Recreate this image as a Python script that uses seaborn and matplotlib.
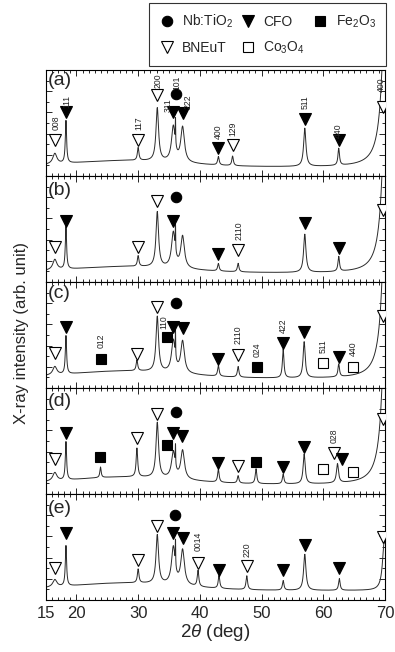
import numpy as np
import pandas as pd
import matplotlib
matplotlib.use("Agg")
import matplotlib.pyplot as plt
import seaborn as sns
from matplotlib.lines import Line2D
from matplotlib.ticker import MultipleLocator, FixedLocator

sns.set_style("ticks")
plt.rcParams["font.family"] = ["Liberation Sans", "DejaVu Sans"]
plt.rcParams["mathtext.fontset"] = "custom"
plt.rcParams["mathtext.rm"] = "Liberation Sans"
plt.rcParams["mathtext.it"] = "Liberation Sans:italic"

# ---------------- data ----------------
panel_names = ["(a)", "(b)", "(c)", "(d)", "(e)"]
panel_label_y = [0.905, 0.86, 0.89, 0.87, 0.86]
x_ticks = [15, 20, 30, 40, 50, 60, 70]

# background: flat level and amorphous hump amplitude (panel fraction)
bg_flat = [0.085, 0.085, 0.09, 0.09, 0.09]
bg_hump = [0.06, 0.06, 0.07, 0.07, 0.07]

# peaks: position (deg), amplitude (panel fraction), FWHM (deg)
a_pos = [16.5, 18.3, 30.0, 33.1, 35.7, 36.05, 37.2, 43.0, 45.3, 57.0, 62.5, 70.4]
a_amp = [0.10, 0.40, 0.12, 0.50, 0.33, 0.25, 0.33, 0.08, 0.09, 0.36, 0.16, 3.0]
a_fwhm = [0.8, 0.25, 0.3, 0.5, 0.7, 0.06, 0.7, 0.3, 0.3, 0.45, 0.3, 1.2]

b_pos = [16.5, 18.3, 30.0, 33.1, 35.7, 36.05, 37.2, 43.0, 46.2, 57.0, 62.5, 70.4]
b_amp = [0.10, 0.40, 0.10, 0.52, 0.33, 0.25, 0.30, 0.07, 0.08, 0.36, 0.14, 3.0]
b_fwhm = [0.8, 0.25, 0.3, 0.5, 0.7, 0.06, 0.7, 0.3, 0.3, 0.45, 0.3, 1.2]

c_pos = [16.5, 18.3, 29.8, 33.1, 35.7, 36.05, 37.2, 43.0, 46.2, 53.5, 56.9, 62.5, 70.4]
c_amp = [0.08, 0.36, 0.10, 0.52, 0.30, 0.25, 0.30, 0.10, 0.10, 0.27, 0.34, 0.12, 3.0]
c_fwhm = [0.8, 0.25, 0.3, 0.5, 0.7, 0.06, 0.7, 0.3, 0.3, 0.3, 0.4, 0.3, 1.2]

d_pos = [16.5, 18.3, 23.9, 29.8, 33.1, 35.7, 36.05, 37.2, 43.0, 46.2, 49.1, 53.5, 56.9, 62.3, 70.4]
d_amp = [0.08, 0.36, 0.10, 0.27, 0.52, 0.25, 0.20, 0.27, 0.12, 0.07, 0.14, 0.09, 0.28, 0.18, 3.0]
d_fwhm = [0.8, 0.25, 0.25, 0.3, 0.5, 0.7, 0.06, 0.7, 0.3, 0.3, 0.3, 0.3, 0.4, 0.4, 1.2]

e_pos = [16.5, 18.3, 30.0, 33.1, 35.7, 36.05, 37.2, 39.7, 43.1, 47.6, 53.5, 57.0, 62.6, 69.9]
e_amp = [0.07, 0.38, 0.13, 0.46, 0.35, 0.25, 0.33, 0.15, 0.12, 0.13, 0.09, 0.34, 0.11, 0.48]
e_fwhm = [0.8, 0.25, 0.3, 0.5, 0.7, 0.06, 0.7, 0.3, 0.3, 0.3, 0.3, 0.45, 0.3, 0.7]

# phase markers: phase code, position (deg), height (panel fraction)
# T = Nb:TiO2, C = CFO, F = Fe2O3, B = BNEuT, K = Co3O4
a_mk_phase = ["B", "C", "B", "B", "T", "C", "C", "C", "B", "C", "C", "B"]
a_mk_pos = [16.5, 18.3, 30.0, 33.1, 36.1, 35.6, 37.2, 43.0, 45.3, 57.0, 62.5, 69.7]
a_mk_y = [0.34, 0.60, 0.34, 0.76, 0.77, 0.60, 0.59, 0.26, 0.29, 0.54, 0.34, 0.65]

b_mk_phase = ["B", "C", "B", "B", "T", "C", "C", "B", "C", "C", "B"]
b_mk_pos = [16.5, 18.3, 30.0, 33.1, 36.1, 35.6, 43.0, 46.2, 57.0, 62.5, 69.7]
b_mk_y = [0.33, 0.58, 0.33, 0.76, 0.80, 0.58, 0.26, 0.30, 0.56, 0.32, 0.68]

c_mk_phase = ["B", "C", "F", "B", "B", "F", "T", "C", "C", "C", "B", "F", "C", "C", "K", "C", "K", "B"]
c_mk_pos = [16.5, 18.3, 24.0, 29.8, 33.1, 34.7, 36.1, 35.6, 37.2, 43.0, 46.2, 49.2, 53.5, 56.9, 59.9, 62.5, 64.8, 69.7]
c_mk_y = [0.33, 0.58, 0.27, 0.32, 0.76, 0.48, 0.80, 0.58, 0.57, 0.27, 0.31, 0.20, 0.42, 0.53, 0.24, 0.29, 0.20, 0.68]

d_mk_phase = ["B", "C", "F", "B", "B", "F", "T", "C", "C", "C", "B", "F", "C", "C", "K", "B", "C", "K", "B"]
d_mk_pos = [16.5, 18.3, 23.8, 29.8, 33.1, 34.7, 36.1, 35.6, 37.1, 43.0, 46.2, 49.1, 53.5, 56.9, 59.9, 61.7, 63.0, 64.8, 69.7]
d_mk_y = [0.33, 0.58, 0.35, 0.53, 0.75, 0.46, 0.77, 0.58, 0.55, 0.29, 0.26, 0.30, 0.25, 0.44, 0.24, 0.39, 0.33, 0.21, 0.71]

e_mk_phase = ["B", "C", "B", "B", "T", "C", "C", "B", "C", "B", "C", "C", "C", "B"]
e_mk_pos = [16.5, 18.3, 30.0, 33.1, 36.0, 35.6, 37.2, 39.7, 43.1, 47.6, 53.5, 57.0, 62.6, 69.7]
e_mk_y = [0.30, 0.63, 0.38, 0.70, 0.80, 0.63, 0.58, 0.35, 0.28, 0.32, 0.28, 0.52, 0.30, 0.59]

# reflection indices: text, position (deg), height (panel fraction)
a_lab_text = ["008", "111", "117", "200", "311", "101", "222", "400", "129", "511", "440", "400"]
a_lab_pos = [16.7, 18.4, 30.1, 33.2, 34.8, 36.3, 38.1, 43.0, 45.4, 57.0, 62.5, 69.45]
a_lab_y = [0.50, 0.705, 0.50, 0.90, 0.67, 0.88, 0.70, 0.42, 0.45, 0.70, 0.43, 0.86]

b_lab_text = ["2110"]
b_lab_pos = [46.3]
b_lab_y = [0.48]

c_lab_text = ["012", "110", "2110", "024", "422", "511", "440"]
c_lab_pos = [24.0, 34.2, 46.2, 49.2, 53.5, 60.0, 64.9]
c_lab_y = [0.45, 0.62, 0.50, 0.36, 0.59, 0.39, 0.37]

d_lab_text = ["028"]
d_lab_pos = [61.8]
d_lab_y = [0.55]

e_lab_text = ["0014", "220"]
e_lab_pos = [39.7, 47.6]
e_lab_y = [0.55, 0.47]

phase_names = {"T": "Nb:TiO$_2$", "C": "CFO", "F": "Fe$_2$O$_3$",
               "B": "BNEuT", "K": "Co$_3$O$_4$"}

# ---------------- build ----------------
peaks = [(a_pos, a_amp, a_fwhm), (b_pos, b_amp, b_fwhm), (c_pos, c_amp, c_fwhm),
         (d_pos, d_amp, d_fwhm), (e_pos, e_amp, e_fwhm)]
marks = [(a_mk_phase, a_mk_pos, a_mk_y), (b_mk_phase, b_mk_pos, b_mk_y),
         (c_mk_phase, c_mk_pos, c_mk_y), (d_mk_phase, d_mk_pos, d_mk_y),
         (e_mk_phase, e_mk_pos, e_mk_y)]
labels = [(a_lab_text, a_lab_pos, a_lab_y), (b_lab_text, b_lab_pos, b_lab_y),
          (c_lab_text, c_lab_pos, c_lab_y), (d_lab_text, d_lab_pos, d_lab_y),
          (e_lab_text, e_lab_pos, e_lab_y)]

style = {"T": dict(marker="o", mfc="black"),
         "C": dict(marker="v", mfc="black"),
         "F": dict(marker="s", mfc="black"),
         "B": dict(marker="v", mfc="white"),
         "K": dict(marker="s", mfc="white")}
msize = {"o": 7.5, "v": 8, "s": 6.5}

two_theta = np.arange(15.0, 70.0001, 0.02)

def profile(i):
    pos, amp, fw = peaks[i]
    y = bg_flat[i] + bg_hump[i] * np.exp(-((two_theta - 28.0) / 13.0) ** 2)
    for p, a, w in zip(pos, amp, fw):
        y = y + a / (1.0 + ((two_theta - p) / (w / 2.0)) ** 2)
    return y

fig = plt.figure(figsize=(3.95, 6.52), dpi=100)
axes = fig.subplots(5, 1, sharex=True, gridspec_kw=dict(hspace=0))
fig.subplots_adjust(left=0.1154, right=0.9747, top=0.8926, bottom=0.0798)

for i, ax in enumerate(axes):
    df = pd.DataFrame({"two_theta": two_theta, "intensity": profile(i)})
    sns.lineplot(data=df, x="two_theta", y="intensity", ax=ax, color="#2a2a2a",
                 linewidth=0.7, estimator=None)
    ph, mp, my = marks[i]
    for code, xx, yy in zip(ph, mp, my):
        st = style[code]
        ax.plot([xx], [yy], linestyle="none", marker=st["marker"],
                markersize=msize[st["marker"]], markerfacecolor=st["mfc"],
                markeredgecolor="black", markeredgewidth=0.8, zorder=4)
    lt, lp, ly = labels[i]
    for t, xx, yy in zip(lt, lp, ly):
        ax.text(xx, yy, t, rotation=90, ha="center", va="center",
                fontsize=6.2, color="#222222", clip_on=True, zorder=5)
    ax.text(0.006, panel_label_y[i], panel_names[i], transform=ax.transAxes,
            ha="left", va="center", fontsize=14)
    ax.set_xlim(15, 70)
    ax.set_ylim(0, 1)
    ax.set_ylabel("")
    ax.set_xlabel("")
    ax.yaxis.set_major_locator(MultipleLocator(0.2))
    ax.yaxis.set_minor_locator(MultipleLocator(0.1))
    ax.xaxis.set_major_locator(FixedLocator(x_ticks))
    ax.xaxis.set_minor_locator(MultipleLocator(1))
    ax.tick_params(which="both", direction="in", top=True, right=True,
                   labelleft=False, width=0.7)
    ax.tick_params(which="major", length=4)
    ax.tick_params(which="minor", length=2)
    for s in ax.spines.values():
        s.set_linewidth(0.8)
        s.set_color("black")
    if i < 4:
        ax.tick_params(labelbottom=False)

axes[-1].tick_params(labelsize=12, pad=4)
axes[-1].set_xlabel(r"2$\it{\theta}$ (deg)", fontsize=13.5, labelpad=1)
fig.text(0.055, 0.49, "X-ray intensity (arb. unit)", rotation=90,
         ha="center", va="center", fontsize=12)

order = ["T", "B", "C", "K", "F"]
handles = [Line2D([], [], linestyle="none", marker=style[c]["marker"],
                  markersize=msize[style[c]["marker"]],
                  markerfacecolor=style[c]["mfc"], markeredgecolor="black",
                  markeredgewidth=0.8) for c in order]
leg = fig.legend(handles, [phase_names[c] for c in order], ncol=3,
                 loc="upper right", bbox_to_anchor=(0.977, 0.996),
                 frameon=True, fancybox=False, edgecolor="black",
                 fontsize=10, handlelength=1.0, handletextpad=0.6,
                 columnspacing=0.6, borderpad=0.75, labelspacing=0.75,
                 borderaxespad=0.0)
leg.get_frame().set_linewidth(0.8)

fig.savefig("out.png", dpi=100)
